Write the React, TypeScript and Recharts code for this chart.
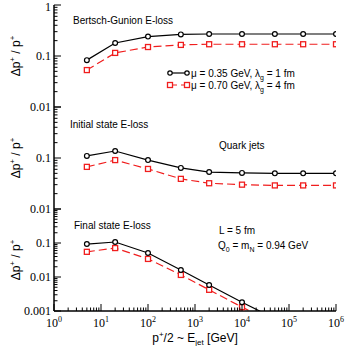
import React from 'react';
import { LineChart, Line, XAxis, YAxis } from 'recharts';

// jet energy points (GeV)
const xVals = [5, 20, 100, 500, 2000, 10000, 50000, 200000, 1000000];

// Bertsch-Gunion E-loss
const bgMu035 = [0.083, 0.18, 0.24, 0.265, 0.27, 0.27, 0.27, 0.27, 0.27];
const bgMu070 = [0.053, 0.115, 0.15, 0.165, 0.17, 0.17, 0.17, 0.17, 0.17];
// Initial state E-loss
const isMu035 = [0.11, 0.137, 0.091, 0.064, 0.053, 0.051, 0.05, 0.05, 0.05];
const isMu070 = [0.067, 0.091, 0.061, 0.039, 0.032, 0.03, 0.029, 0.029, 0.029];
// Final state E-loss
const fsMu035 = [0.093, 0.107, 0.051, 0.016, 0.0058, 0.0018, 0.0006, 0.0002, 0.00006];
const fsMu070 = [0.055, 0.071, 0.034, 0.0115, 0.0042, 0.0013, 0.00043, 0.00015, 0.00004];

const xMajor = [1, 10, 100, 1e3, 1e4, 1e5, 1e6];
const yMajorTop = [0.01, 0.1, 1];
const yMajorBottom = [0.001, 0.01, 0.1, 1];

const withMinors = (majors: number[]) => {
  const out: number[] = [];
  majors.forEach((m, i) => {
    out.push(m);
    if (i < majors.length - 1) for (let k = 2; k <= 9; k++) out.push(m * k);
  });
  return out;
};

const isMajor = (v: number) => Math.abs(Math.log10(v) - Math.round(Math.log10(v))) < 1e-6;

const SERIF = '"Liberation Serif", "DejaVu Serif", serif';
const SANS = '"Liberation Sans", Arial, sans-serif';
const RED = '#f01e1e';

const fmtY = (v: number) => {
  if (v >= 1) return '1';
  const d = Math.round(-Math.log10(v));
  return '0.' + '0'.repeat(d - 1) + '1';
};

const makeData = (a: number[], b: number[]) => xVals.map((x, i) => ({ x, a: a[i], b: b[i] }));

const XTick = (dir: number, labels: boolean) => (props: any) => {
  const { x, y, payload } = props;
  const major = isMajor(payload.value);
  const exp = Math.round(Math.log10(payload.value));
  return (
    <g>
      <line x1={x} x2={x} y1={y} y2={y - dir * (major ? 7 : 3.5)} stroke="#000" strokeWidth={1} />
      {labels && major && (
        <text x={x} y={y + 16} textAnchor="middle" fontFamily={SERIF} fontSize={12} fill="#000">
          10<tspan dy={-5} fontSize={8}>{exp}</tspan>
        </text>
      )}
    </g>
  );
};

const YTick = (skipTop: boolean) => (props: any) => {
  const { x, y, payload } = props;
  const major = isMajor(payload.value);
  const showLabel = major && !(skipTop && payload.value === 1);
  return (
    <g>
      <line x1={x} x2={x + (major ? 7 : 3.5)} y1={y} y2={y} stroke="#000" strokeWidth={1} />
      {showLabel && (
        <text x={x - 3} y={y + (payload.value === 1 ? 6 : 4)} textAnchor="end" fontFamily={SERIF} fontSize={12} fill="#000">
          {fmtY(payload.value)}
        </text>
      )}
    </g>
  );
};

const CircleDot = (props: any) => {
  const { cx, cy, index } = props;
  return <circle key={'c' + index} cx={cx} cy={cy} r={2.4} fill="#fff" stroke="#000" strokeWidth={1.2} />;
};
const SquareDot = (props: any) => {
  const { cx, cy, index } = props;
  return <rect key={'s' + index} x={cx - 2.5} y={cy - 2.5} width={5} height={5} fill="#fff" stroke={RED} strokeWidth={1.3} />;
};

const YTitle = ({ y }: { y: number }) => (
  <text transform={`translate(20, ${y}) rotate(-90)`} textAnchor="middle" fontFamily={SANS} fontSize={12} fill="#000">
    Δp<tspan dy={-5} fontSize={8}>+</tspan>
    <tspan dy={5}> / p</tspan>
    <tspan dy={-5} fontSize={8}>+</tspan>
  </text>
);

type PanelProps = {
  top: number;
  height: number;
  data: any[];
  yMajors: number[];
  skipTop: boolean;
  bottomLabels: boolean;
  children?: React.ReactNode;
};

const Panel = ({ top, height, data, yMajors, skipTop, bottomLabels, children }: PanelProps) => (
  <div style={{ position: 'absolute', left: 0, top }}>
    <LineChart width={346} height={height} data={data} margin={{ top: 5, right: 10, bottom: bottomLabels ? 0 : 1, left: 0 }}>
      <XAxis
        dataKey="x"
        type="number"
        scale="log"
        domain={[1, 1e6]}
        allowDataOverflow
        ticks={withMinors(xMajor)}
        interval={0}
        height={bottomLabels ? 35 : 0}
        tickSize={0}
        tickMargin={0}
        tickLine={false}
        axisLine={{ stroke: '#000', strokeWidth: 1.5 }}
        tick={XTick(1, bottomLabels)}
      />
      <XAxis
        xAxisId="top"
        orientation="top"
        dataKey="x"
        type="number"
        scale="log"
        domain={[1, 1e6]}
        allowDataOverflow
        ticks={withMinors(xMajor)}
        interval={0}
        height={0}
        tickSize={0}
        tickMargin={0}
        tickLine={false}
        axisLine={{ stroke: '#000', strokeWidth: 1.5 }}
        tick={XTick(-1, false)}
      />
      <YAxis
        type="number"
        scale="log"
        domain={[yMajors[0], 1]}
        allowDataOverflow
        ticks={withMinors(yMajors)}
        interval={0}
        width={54}
        tickSize={0}
        tickMargin={0}
        tickLine={false}
        axisLine={{ stroke: '#000', strokeWidth: 1.5 }}
        tick={YTick(skipTop)}
      />
      <YAxis
        yAxisId="right"
        orientation="right"
        type="number"
        scale="log"
        domain={[yMajors[0], 1]}
        allowDataOverflow
        width={0}
        tick={false}
        tickLine={false}
        axisLine={{ stroke: '#000', strokeWidth: 1.5 }}
      />
      <Line type="linear" dataKey="b" stroke={RED} strokeWidth={1.2} strokeDasharray="8 4" dot={SquareDot} isAnimationActive={false} />
      <Line type="linear" dataKey="a" stroke="#000" strokeWidth={1.2} dot={CircleDot} isAnimationActive={false} />
      <YTitle y={5 + 51} />
      {children}
    </LineChart>
  </div>
);

export default function App() {
  return (
    <div style={{ position: 'absolute', left: 0, top: 0, width: 346, height: 346, background: '#fff' }}>
      <style>{'svg { overflow: visible; }'}</style>
      <Panel top={0} height={108} data={makeData(bgMu035, bgMu070)} yMajors={yMajorTop} skipTop={false} bottomLabels={false}>
        <text x={73} y={24} fontFamily={SANS} fontSize={10} fill="#000">Bertsch-Gunion E-loss</text>
        <line x1={169} x2={187} y1={73} y2={73} stroke="#000" strokeWidth={1.2} />
        <circle cx={170} cy={73} r={2.2} fill="#fff" stroke="#000" strokeWidth={1.2} />
        <circle cx={187} cy={73} r={2.2} fill="#fff" stroke="#000" strokeWidth={1.2} />
        <text x={191} y={77} fontFamily={SANS} fontSize={10} fill="#000">
          μ = 0.35 GeV,  λ<tspan dy={3} fontSize={7}>g</tspan><tspan dy={-3}> = 1 fm</tspan>
        </text>
        <line x1={169} x2={187} y1={85} y2={85} stroke={RED} strokeWidth={1.2} strokeDasharray="8 4" />
        <rect x={167.5} y={82.5} width={5} height={5} fill="#fff" stroke={RED} strokeWidth={1.3} />
        <rect x={184.5} y={82.5} width={5} height={5} fill="#fff" stroke={RED} strokeWidth={1.3} />
        <text x={191} y={89} fontFamily={SANS} fontSize={10} fill="#000">
          μ = 0.70 GeV,  λ<tspan dy={3} fontSize={7}>g</tspan><tspan dy={-3}> = 4 fm</tspan>
        </text>
      </Panel>
      <Panel top={102} height={108} data={makeData(isMu035, isMu070)} yMajors={yMajorTop} skipTop bottomLabels={false}>
        <text x={70} y={26} fontFamily={SANS} fontSize={10} fill="#000">Initial state E-loss</text>
        <text x={219} y={47} fontFamily={SANS} fontSize={10} fill="#000">Quark jets</text>
      </Panel>
      <Panel top={204} height={142} data={makeData(fsMu035, fsMu070)} yMajors={yMajorBottom} skipTop bottomLabels>
        <text x={74} y={25} fontFamily={SANS} fontSize={10} fill="#000">Final state E-loss</text>
        <text x={219} y={30} fontFamily={SANS} fontSize={10} fill="#000">L = 5 fm</text>
        <text x={218} y={45} fontFamily={SANS} fontSize={10} fill="#000">
          Q<tspan dy={3} fontSize={7}>0</tspan><tspan dy={-3}> = m</tspan>
          <tspan dy={3} fontSize={7}>N</tspan><tspan dy={-3}> = 0.94 GeV</tspan>
        </text>
        <text x={195} y={138} textAnchor="middle" fontFamily={SANS} fontSize={12} fill="#000">
          p<tspan dy={-5} fontSize={8}>+</tspan><tspan dy={5}>/2 ~ E</tspan>
          <tspan dy={3} fontSize={8}>jet</tspan><tspan dy={-3}> [GeV]</tspan>
        </text>
      </Panel>
    </div>
  );
}
